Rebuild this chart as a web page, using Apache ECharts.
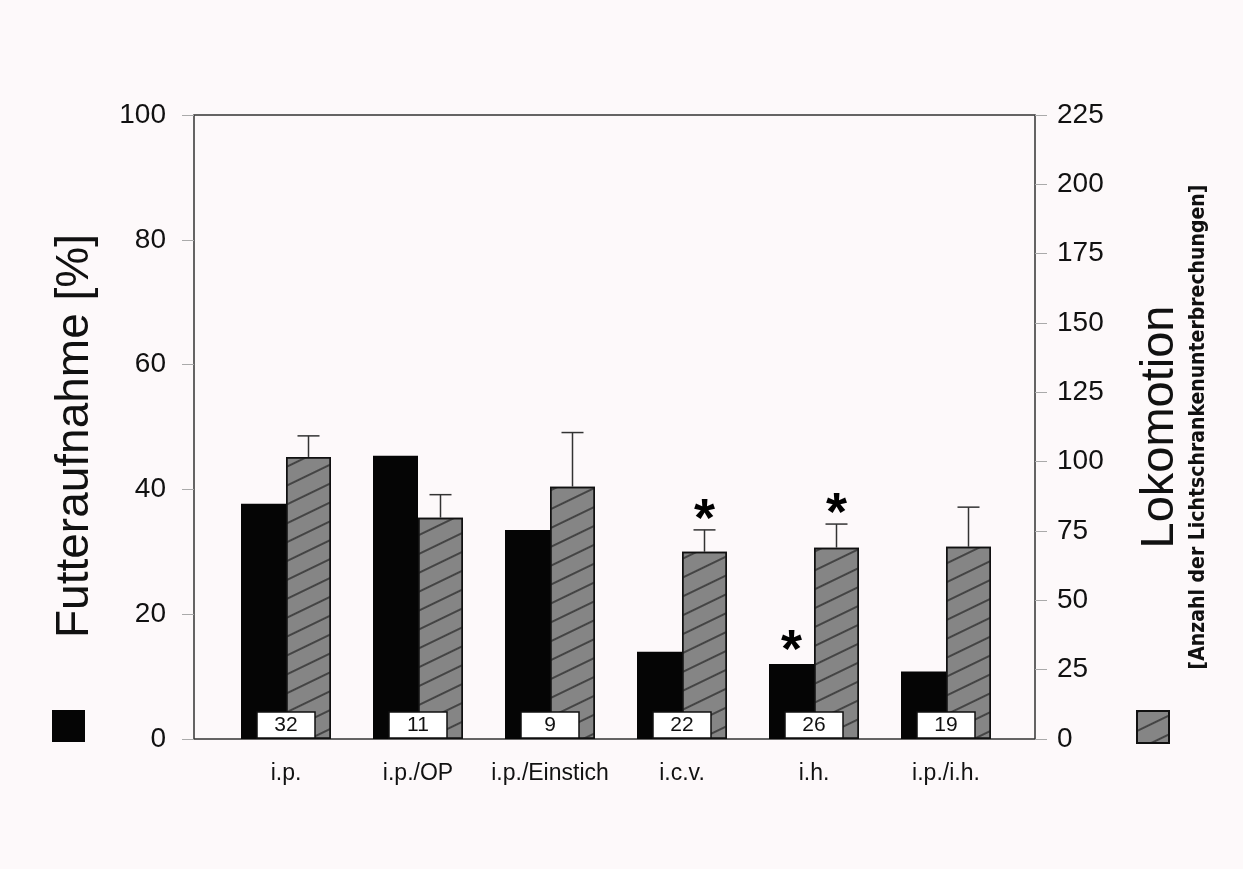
<!DOCTYPE html>
<html>
<head>
<meta charset="utf-8">
<script src="https://cdn.jsdelivr.net/npm/echarts@6/dist/echarts.min.js"></script>
<style>
  html, body { margin: 0; padding: 0; background: #fdf9fa; }
  #chart { width: 1243px; height: 869px; }
</style>
</head>
<body>
<div id="chart"></div>
<script>
// ---- data ----
const categories = ['i.p.', 'i.p./OP', 'i.p./Einstich', 'i.c.v.', 'i.h.', 'i.p./i.h.'];
const futter = [37.7, 45.4, 33.5, 14.0, 12.0, 10.8];          // Futteraufnahme [%]
const loko = [101.7, 79.8, 91.0, 67.5, 69.0, 69.3];            // Lokomotion
const lokoErr = [7.6, 8.3, 19.5, 7.9, 8.5, 14.3];              // upper error
const nCounts = [32, 11, 9, 22, 26, 19];
const futterSig = [false, false, false, false, true, false];
const lokoSig = [false, false, false, true, true, false];
const leftAxis = { min: 0, max: 100, interval: 20 };
const rightAxis = { min: 0, max: 225, interval: 25 };

// ---- style constants ----
const BAR_W = 45;
const FONT = 'Liberation Sans, Arial, sans-serif';

const chart = echarts.init(document.getElementById('chart'));

const errData = categories.map((c, i) => [i, loko[i], loko[i] + lokoErr[i], lokoSig[i] ? 1 : 0]);
const boxData = categories.map((c, i) => [i, 0, nCounts[i]]);
const starData = categories.map((c, i) => [i, futter[i], futterSig[i] ? 1 : 0]);

const option = {
  backgroundColor: '#fdf9fa',
  animation: false,
  grid: [
    { left: 194, right: 208, top: 115, bottom: 130, show: true, borderColor: '#333', borderWidth: 1.5, backgroundColor: 'transparent' },
    { left: 220, right: 231, top: 115, bottom: 130 }
  ],
  legend: [
    { left: 52, top: 710, padding: 0, itemWidth: 33, itemHeight: 32, icon: 'rect', data: ['Futteraufnahme'], formatter: () => '', textStyle: { fontSize: 1 } },
    { left: 1136, top: 710, padding: 0, itemWidth: 32, itemHeight: 32, icon: 'rect', data: ['Lokomotion'], formatter: () => '', textStyle: { fontSize: 1 } }
  ],
  xAxis: [
    { gridIndex: 0, type: 'value', show: false, min: 0, max: 1 },
    {
      gridIndex: 1, type: 'category', data: categories,
      axisLine: { show: false }, axisTick: { show: false },
      axisLabel: { color: '#111', fontSize: 23, fontFamily: FONT, margin: 23, interval: 0, hideOverlap: false }
    }
  ],
  yAxis: [
    { gridIndex: 0, type: 'value', show: false, min: 0, max: 1 },
    {
      gridIndex: 1, type: 'value', position: 'left', offset: 26,
      min: leftAxis.min, max: leftAxis.max, interval: leftAxis.interval,
      splitLine: { show: false },
      axisLine: { show: false },
      axisTick: { show: true, length: 12, lineStyle: { color: '#aaa', width: 1 } },
      axisLabel: { color: '#111', fontSize: 28, fontFamily: FONT, margin: 28 },
      name: 'Futteraufnahme [%]', nameLocation: 'middle', nameRotate: 90, nameGap: 96,
      nameTextStyle: { color: '#111', fontSize: 46, fontFamily: FONT, padding: [0, 0, 0, -18] }
    },
    {
      gridIndex: 1, type: 'value', position: 'right', offset: 23,
      min: rightAxis.min, max: rightAxis.max, interval: rightAxis.interval,
      splitLine: { show: false },
      axisLine: { show: false },
      axisTick: { show: true, length: 12, lineStyle: { color: '#aaa', width: 1 } },
      axisLabel: { color: '#111', fontSize: 28, fontFamily: FONT, margin: 22 },
      name: '{a|Lokomotion}\n{b|[Anzahl der Lichtschrankenunterbrechungen]}',
      nameLocation: 'middle', nameRotate: 90, nameGap: 100,
      nameTextStyle: {
        rich: {
          a: { color: '#111', fontSize: 47, fontFamily: FONT, lineHeight: 50, align: 'center' },
          b: { color: '#111', fontSize: 21, fontWeight: 'bold', fontFamily: 'Liberation Sans Narrow, DejaVu Sans Condensed, sans-serif', lineHeight: 28, align: 'center' }
        }
      }
    }
  ],
  series: [
    {
      name: 'Futteraufnahme', type: 'bar', xAxisIndex: 1, yAxisIndex: 1,
      data: futter, barWidth: BAR_W, barGap: '0%',
      itemStyle: { color: '#050505' }
    },
    {
      name: 'Lokomotion', type: 'bar', xAxisIndex: 1, yAxisIndex: 2,
      data: loko, barWidth: BAR_W, barGap: '0%',
      itemStyle: {
        color: '#858585', borderColor: '#111', borderWidth: 1.5,
        decal: {
          symbol: 'rect', symbolSize: 1, color: 'rgba(40,40,40,0.7)',
          dashArrayX: [1, 0], dashArrayY: [1.3, 15], rotation: -0.45
        }
      }
    },
    {
      type: 'custom', xAxisIndex: 1, yAxisIndex: 2, z: 5,
      data: errData, encode: { x: 0, y: [1, 2] },
      renderItem: function (params, api) {
        const i = api.value(0);
        const base = api.coord([i, api.value(1)]);
        const top = api.coord([i, api.value(2)]);
        const x = base[0] + BAR_W / 2;
        const children = [
          { type: 'line', shape: { x1: x, y1: base[1], x2: x, y2: top[1] }, style: { stroke: '#333', lineWidth: 1.5 } },
          { type: 'line', shape: { x1: x - 11, y1: top[1], x2: x + 11, y2: top[1] }, style: { stroke: '#333', lineWidth: 1.5 } }
        ];
        if (api.value(3) === 1) {
          children.push({ type: 'text', style: { text: '*', x: x, y: top[1] + 18, align: 'center', verticalAlign: 'bottom', font: 'bold 54px ' + FONT, fill: '#000' } });
        }
        return { type: 'group', children: children };
      }
    },
    {
      type: 'custom', xAxisIndex: 1, yAxisIndex: 1, z: 6,
      data: boxData, encode: { x: 0, y: 1 },
      renderItem: function (params, api) {
        const i = api.value(0);
        const p = api.coord([i, api.value(1)]);
        return {
          type: 'group', children: [
            { type: 'rect', shape: { x: p[0] - 29, y: p[1] - 27, width: 58, height: 26 }, style: { fill: '#fff', stroke: '#111', lineWidth: 1.5 } },
            { type: 'text', style: { text: String(api.value(2)), x: p[0], y: p[1] - 13.5, align: 'center', verticalAlign: 'middle', font: '21px ' + FONT, fill: '#111' } }
          ]
        };
      }
    },
    {
      type: 'custom', xAxisIndex: 1, yAxisIndex: 1, z: 6,
      data: starData, encode: { x: 0, y: 1 },
      renderItem: function (params, api) {
        if (api.value(2) !== 1) return null;
        const i = api.value(0);
        const p = api.coord([i, api.value(1)]);
        const x = p[0] - BAR_W / 2;
        return { type: 'text', style: { text: '*', x: x, y: p[1] + 15, align: 'center', verticalAlign: 'bottom', font: 'bold 54px ' + FONT, fill: '#000' } };
      }
    }
  ]
};
chart.setOption(option);
</script>
</body>
</html>
